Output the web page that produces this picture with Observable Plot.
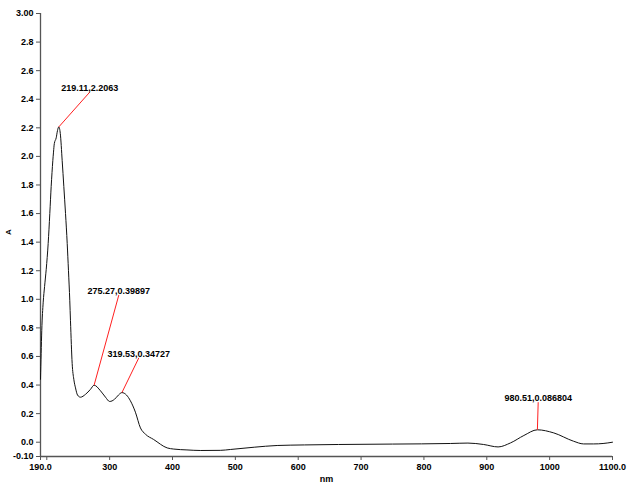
<!DOCTYPE html>
<html>
<head>
<meta charset="utf-8">
<script src="https://cdn.jsdelivr.net/npm/d3@7"></script>
<script src="https://cdn.jsdelivr.net/npm/@observablehq/plot@0.6"></script>
<style>
  html, body { margin: 0; padding: 0; background: #fff; }
  #chart svg { display: block; font-family: "Liberation Sans", Arial, sans-serif; }
</style>
</head>
<body>
<div id="chart"></div>
<script>
// Spectrum: wavelength (nm) and absorbance
const wavelength = [190, 191, 192, 194.3, 196.5, 199.1, 202.2, 204.8, 207.0, 209.6, 210.7, 212, 215, 217, 219.11,
  221.5, 224.5, 227.1, 229.8, 232.5, 234.5, 236.6, 237.7, 240.4, 243, 245.7, 248.9, 253.6, 261.6, 269.5, 275.27,
  285.4, 293.4, 300, 307.7, 314, 319.53, 326.8, 333, 341, 349, 357, 370, 391.6, 402, 423, 445, 476, 492, 530,
  566.5, 610, 664, 750, 842, 870, 895, 918, 937.7, 959, 980.51, 1006.6, 1038, 1054, 1070, 1085, 1100];
const absorbance = [0.44, 0.62, 0.78, 0.98, 1.09, 1.21, 1.39, 1.60, 1.79, 1.97, 2.03, 2.09, 2.13, 2.18, 2.2063,
  2.16, 1.97, 1.79, 1.60, 1.39, 1.20, 0.99, 0.85, 0.55, 0.44, 0.38, 0.33, 0.315, 0.335, 0.37, 0.39897,
  0.36, 0.315, 0.285, 0.30, 0.33, 0.34727, 0.33, 0.29, 0.21, 0.10, 0.056, 0.019, -0.04, -0.048, -0.054, -0.058, -0.057, -0.051, -0.035,
  -0.023, -0.019, -0.016, -0.013, -0.009, -0.006, -0.016, -0.033, -0.005, 0.047, 0.086804, 0.065, 0.007, -0.012, -0.012, -0.009, 0.0];

// Peak annotations
const peakNm = [219.11, 275.27, 319.53, 980.51];
const peakAbs = [2.2063, 0.39897, 0.34727, 0.086804];
const peakLabel = ["219.11,2.2063", "275.27,0.39897", "319.53,0.34727", "980.51,0.086804"];
const labelNm = [268.4, 314.6, 346.4, 981.8];
const labelAbs = [2.45, 1.03, 0.59, 0.28];

// Axis ticks
const xTicks = [190, 200, 300, 400, 500, 600, 700, 800, 900, 1000, 1100];
const xTickLabels = ["190.0", "", "300", "400", "500", "600", "700", "800", "900", "1000", "1100.0"];
const yTicks = [-0.1, 0, 0.2, 0.4, 0.6, 0.8, 1.0, 1.2, 1.4, 1.6, 1.8, 2.0, 2.2, 2.4, 2.6, 2.8, 3.0];
const yTickLabels = ["-0.10", "0.0", "0.2", "0.4", "0.6", "0.8", "1.0", "1.2", "1.4", "1.6", "1.8", "2.0", "2.2", "2.4", "2.6", "2.8", "3.00"];

const spectrum = wavelength.map((w, i) => ({nm: w, a: absorbance[i]}));
const peaks = peakNm.map((w, i) => ({nm: w, a: peakAbs[i], label: peakLabel[i], lx: labelNm[i], ly: labelAbs[i]}));

const axisColor = "#555";
const chart = Plot.plot({
  width: 627,
  height: 484,
  marginLeft: 40,
  marginRight: 15,
  marginTop: 13,
  marginBottom: 28,
  style: {fontFamily: "'Liberation Sans', Arial, sans-serif", fontSize: "9px", fontWeight: "bold", background: "#fff"},
  x: {domain: [190, 1100]},
  y: {domain: [-0.1, 3.0]},
  marks: [
    Plot.ruleX([190], {stroke: axisColor, strokeWidth: 1.3}),
    Plot.ruleY([-0.1], {stroke: axisColor, strokeWidth: 1.3}),
    Plot.axisX({ticks: xTicks, tickFormat: d => xTickLabels[xTicks.indexOf(d)], tickSize: 4, tickPadding: 3,
      stroke: axisColor, fill: "#000", fontWeight: "bold", fontSize: 9, label: null}),
    Plot.axisY({ticks: yTicks, tickFormat: d => yTickLabels[yTicks.indexOf(d)], tickSize: 4, tickPadding: 3,
      stroke: axisColor, fill: "#000", fontWeight: "bold", fontSize: 9, label: null}),
    Plot.line(spectrum, {x: "nm", y: "a", stroke: "#111", strokeWidth: 1, curve: "monotone-x"}),
    Plot.link(peaks, {x1: "nm", y1: "a", x2: "lx", y2: "ly", stroke: "#ff2020", strokeWidth: 1}),
    Plot.text(peaks, {x: "lx", y: "ly", text: "label", lineAnchor: "bottom", dy: -1, fill: "#000",
      fontWeight: "bold", fontSize: 9, style: "letter-spacing:-0.6px"}),
    Plot.text(["nm"], {frameAnchor: "bottom", dy: 25, text: d => d, fontSize: 9, fontWeight: "bold", fill: "#000"}),
    Plot.text(["A"], {frameAnchor: "left", dx: -32, rotate: -90, text: d => d, fontSize: 8, fontWeight: "bold", fill: "#000"})
  ]
});
document.getElementById("chart").appendChild(chart);
</script>
</body>
</html>
